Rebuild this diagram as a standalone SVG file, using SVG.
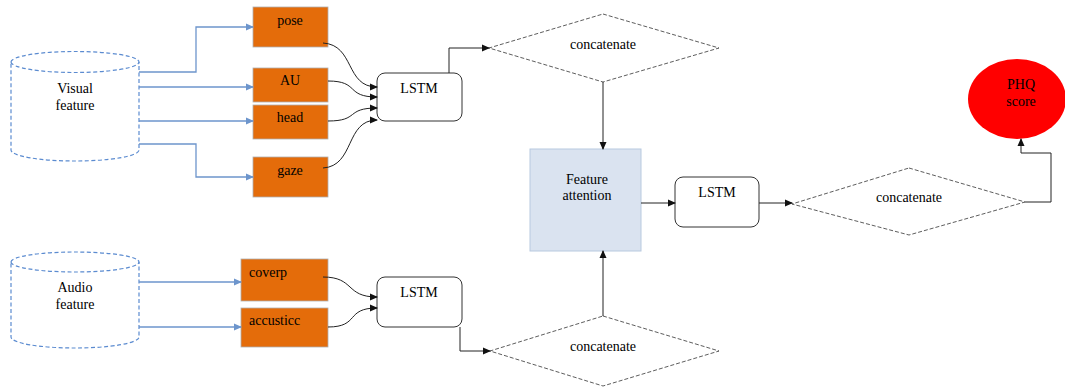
<svg xmlns="http://www.w3.org/2000/svg" width="1065" height="387" viewBox="0 0 1065 387">
<defs>
<style>
text{font-family:"Liberation Serif","Times New Roman","DejaVu Serif",serif;font-size:14px;fill:#000;text-anchor:middle}
.cyl{fill:#fff;stroke:#5b8bd0;stroke-width:1.2;stroke-dasharray:4,2.5}
.cylt{fill:none;stroke:#5b8bd0;stroke-width:1.2;stroke-dasharray:4,2.5}
.feat{fill:#e46c0a;stroke:#b0b0b0;stroke-width:0.8}
.lstm{fill:#fff;stroke:#333;stroke-width:1}
.dia{fill:#fff;stroke:#333;stroke-width:0.8;stroke-dasharray:4,2}
.blue{fill:none;stroke:#6d95cc;stroke-width:1.3;marker-end:url(#ab)}
.blk{fill:none;stroke:#222;stroke-width:1;marker-end:url(#ak)}
</style>
<marker id="ab" markerWidth="8" markerHeight="8" refX="7" refY="4" orient="auto" markerUnits="userSpaceOnUse"><path d="M0,0.5 L8,4 L0,7.5 z" fill="#6d95cc"/></marker>
<marker id="ak" markerWidth="8" markerHeight="8" refX="7" refY="4" orient="auto" markerUnits="userSpaceOnUse"><path d="M0,0.5 L8,4 L0,7.5 z" fill="#111"/></marker>
</defs>

<g id="visual-feature">
<path class="cyl" d="M11,62 A64,10.5 0 0 1 139,62 L139,150 A64,11 0 0 1 11,150 Z"/>
<path class="cylt" d="M11,62 A64,10.5 0 0 0 139,62"/>
<text x="75" y="93">Visual</text>
<text x="75" y="110">feature</text>
</g>

<g id="audio-feature">
<path class="cyl" d="M11,262 A64,10 0 0 1 139,262 L139,337 A64,11 0 0 1 11,337 Z"/>
<path class="cylt" d="M11,262 A64,10 0 0 0 139,262"/>
<text x="75" y="292">Audio</text>
<text x="75" y="309">feature</text>
</g>

<g id="pose"><rect class="feat" x="253" y="7" width="75" height="40"/><text x="290" y="25">pose</text></g>
<g id="au"><rect class="feat" x="253" y="68" width="75" height="34"/><text x="290" y="85">AU</text></g>
<g id="head"><rect class="feat" x="253" y="105" width="75" height="34"/><text x="290" y="122">head</text></g>
<g id="gaze"><rect class="feat" x="253" y="157" width="75" height="40"/><text x="290" y="175">gaze</text></g>
<g id="coverp"><rect class="feat" x="241" y="259" width="87" height="42"/><text x="249" y="277" style="text-anchor:start">coverp</text></g>
<g id="accusticc"><rect class="feat" x="241" y="308" width="87" height="39"/><text x="249" y="325" style="text-anchor:start">accusticc</text></g>

<g id="lstm1"><rect class="lstm" x="377" y="73" width="85" height="48" rx="8"/><text x="419" y="93">LSTM</text></g>
<g id="lstm2"><rect class="lstm" x="377" y="277" width="85" height="50" rx="8"/><text x="419" y="297">LSTM</text></g>
<g id="lstm3"><rect class="lstm" x="675" y="177" width="84" height="50" rx="8"/><text x="717" y="197">LSTM</text></g>

<g id="concat1"><polygon class="dia" points="603,14 719,48 603,82 489,48"/><text x="603" y="49">concatenate</text></g>
<g id="concat2"><polygon class="dia" points="603,316 719,351 603,386 490,351"/><text x="603" y="351">concatenate</text></g>
<g id="concat3"><polygon class="dia" points="909,168 1025,202 909,235 792,204"/><text x="909" y="202">concatenate</text></g>

<g id="feature-attention"><rect x="530" y="149" width="111" height="102" fill="#dae3f0" stroke="#b8c9df" stroke-width="1"/><text x="587" y="184">Feature</text><text x="587" y="200">attention</text></g>

<g id="phq"><ellipse cx="1017" cy="99" rx="49" ry="40" fill="#ff0000"/><text x="1021" y="89">PHQ</text><text x="1021" y="106">score</text></g>

<g id="connectors">
<path class="blue" d="M139,72 H196 V27 H253"/>
<path class="blue" d="M139,87 H253"/>
<path class="blue" d="M139,121 H253"/>
<path class="blue" d="M139,144 H196 V177 H253"/>
<path class="blue" d="M139,282 H241"/>
<path class="blue" d="M139,327 H241"/>
<path class="blk" d="M323,43 C355,45 345,87 377,87"/>
<path class="blk" d="M328,81 C360,81 345,97 377,97"/>
<path class="blk" d="M328,121 C360,121 345,108 377,108"/>
<path class="blk" d="M323,168 C355,166 345,120 377,120"/>
<path class="blk" d="M323,277 C355,277 345,297 377,297"/>
<path class="blk" d="M328,327 C360,327 345,308 377,308"/>
<path class="blk" d="M449,73 V48 H489"/>
<path class="blk" d="M460,327 V351 H490"/>
<path class="blk" d="M603,82 V149"/>
<path class="blk" d="M603,316 V251"/>
<path class="blk" d="M641,203 H675"/>
<path class="blk" d="M759,203 H792"/>
<path class="blk" d="M1025,202 H1051 V153 H1021 V139"/>
</g>
</svg>
